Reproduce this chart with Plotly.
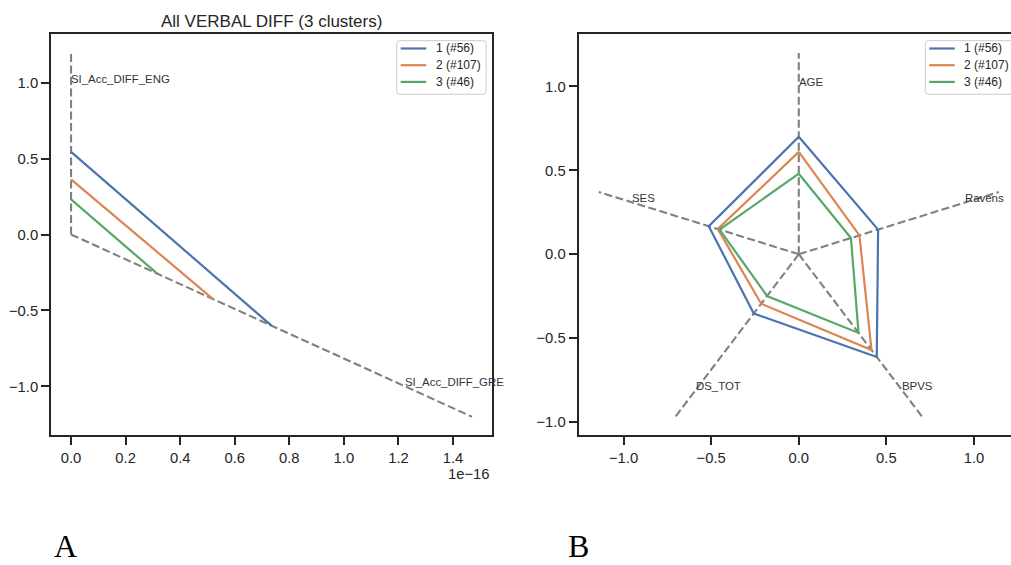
import numpy as np
import plotly.graph_objects as go

# ---------------- data ----------------
cluster_names = ["1 (#56)", "2 (#107)", "3 (#46)"]

# Panel A (two-axis radar)
axes_A = ["SI_Acc_DIFF_ENG", "SI_Acc_DIFF_GRE"]
A_cluster1 = [0.544, 0.600]
A_cluster2 = [0.363, 0.425]
A_cluster3 = [0.231, 0.258]

# Panel B (five-axis radar)
axes_B = ["AGE", "Ravens", "BPVS", "DS_TOT", "SES"]
B_cluster1 = [0.700, 0.476, 0.757, 0.437, 0.540]
B_cluster2 = [0.610, 0.364, 0.706, 0.365, 0.486]
B_cluster3 = [0.480, 0.313, 0.580, 0.308, 0.475]

axis_len = 1.2
label_r = 1.0

# ---------------- style ----------------
W, H = 1011, 565
colors = ["#4C72B0", "#DD8452", "#55A868"]
ink = "#262626"
font = "Liberation Sans, Arial, sans-serif"


def px_x(p):
    return p / W


def px_y(p):
    return 1 - p / H


def radar_xy(values, scale=1.0):
    n = len(values)
    th = 2 * np.pi * np.arange(n) / n
    v = np.asarray(values, dtype=float)
    return v * np.sin(th) * scale, v * np.cos(th)


fig = go.Figure()

panels = [
    dict(axes=axes_A, data=[A_cluster1, A_cluster2, A_cluster3], xa="x", ya="y",
         scale=1e16, legend_left=396.7),
    dict(axes=axes_B, data=[B_cluster1, B_cluster2, B_cluster3], xa="x2", ya="y2",
         scale=1.0, legend_left=925.3),
]

for p in panels:
    n = len(p["axes"])
    # dashed spokes
    ends_x, ends_y = radar_xy([axis_len] * n, p["scale"])
    for ex, ey in zip(ends_x, ends_y):
        fig.add_trace(go.Scatter(
            x=[0, ex], y=[0, ey], mode="lines", xaxis=p["xa"], yaxis=p["ya"],
            line=dict(color="#808080", width=2.1, dash="8px,3.5px"),
            showlegend=False, hoverinfo="skip"))
    # cluster polygons
    for vals, name, col in zip(p["data"], cluster_names, colors):
        xs, ys = radar_xy(vals, p["scale"])
        xs = np.append(xs, xs[0])
        ys = np.append(ys, ys[0])
        fig.add_trace(go.Scatter(
            x=xs, y=ys, mode="lines", name=name, xaxis=p["xa"], yaxis=p["ya"],
            line=dict(color=col, width=2.2), showlegend=False))
    # axis labels
    lx, ly = radar_xy([label_r] * n, p["scale"])
    for name, x, y in zip(p["axes"], lx, ly):
        fig.add_annotation(
            x=x, y=y, xref=p["xa"], yref=p["ya"], text=name, showarrow=False,
            xanchor="left", yanchor="middle", yshift=4, xshift=-2,
            font=dict(family=font, size=11.4, color="#333333"))

    # legend box (matplotlib-style)
    L = p["legend_left"]
    R = L + 89.5
    T, B = 40.7, 94.3
    r = 3
    x0, x1 = px_x(L), px_x(R)
    y0, y1 = px_y(B), px_y(T)
    rx, ry = r / W, r / H
    path = (f"M {x0+rx},{y1} L {x1-rx},{y1} Q {x1},{y1} {x1},{y1-ry} "
            f"L {x1},{y0+ry} Q {x1},{y0} {x1-rx},{y0} L {x0+rx},{y0} "
            f"Q {x0},{y0} {x0},{y0+ry} L {x0},{y1-ry} Q {x0},{y1} {x0+rx},{y1} Z")
    fig.add_shape(type="path", path=path, xref="paper", yref="paper",
                  line=dict(color="#cccccc", width=1),
                  fillcolor="rgba(255,255,255,0.8)", layer="above")
    for i, (name, col) in enumerate(zip(cluster_names, colors)):
        ry_px = 48.5 + i * 16.7
        fig.add_shape(type="line", xref="paper", yref="paper",
                      x0=px_x(L + 4), x1=px_x(L + 29.5),
                      y0=px_y(ry_px), y1=px_y(ry_px),
                      line=dict(color=col, width=2.2), layer="above")
        fig.add_annotation(
            x=px_x(L + 37), y=px_y(ry_px), xref="paper", yref="paper",
            text=name, showarrow=False, xanchor="left", yanchor="middle",
            font=dict(family=font, size=12, color=ink))

axis_common = dict(
    showline=True, linecolor=ink, linewidth=1.8, ticks="outside", ticklen=8,
    tickwidth=1.6, tickcolor=ink, showgrid=False, zeroline=False,
    tickfont=dict(family=font, size=14.8, color=ink), tickformat=".1f",
)

fig.update_layout(
    xaxis=dict(domain=[px_x(51), px_x(492)], range=[-0.0735, 1.543],
               tickvals=[0, 0.2, 0.4, 0.6, 0.8, 1.0, 1.2, 1.4], mirror=True,
               anchor="y", **axis_common),
    yaxis=dict(domain=[px_y(435), px_y(34)], range=[-1.32, 1.32],
               tickvals=[-1.0, -0.5, 0.0, 0.5, 1.0], mirror=True,
               anchor="x", **axis_common),
    xaxis2=dict(domain=[px_x(578.5), 1.0], range=[-1.257, 1.211],
                tickvals=[-1.0, -0.5, 0.0, 0.5, 1.0], mirror=True,
                anchor="y2", **axis_common),
    yaxis2=dict(domain=[px_y(435), px_y(34)], range=[-1.078, 1.313],
                tickvals=[-1.0, -0.5, 0.0, 0.5, 1.0], mirror=False,
                anchor="x2", **axis_common),
)

# title of panel A
fig.add_annotation(
    x=px_x(271.5), y=px_y(21.5), xref="paper", yref="paper",
    text="All VERBAL DIFF (3 clusters)", showarrow=False,
    xanchor="center", yanchor="middle",
    font=dict(family=font, size=17, color=ink))

# offset text for x axis of panel A
fig.add_annotation(
    x=px_x(492), y=px_y(474), xref="paper", yref="paper", text="1e\u221216",
    showarrow=False, xanchor="right", yanchor="middle",
    font=dict(family=font, size=14.8, color=ink))

# panel letters
for letter, xp in [("A", 53), ("B", 567)]:
    fig.add_annotation(
        x=px_x(xp), y=0, xref="paper", yref="paper", text=letter,
        showarrow=False, xanchor="left", yanchor="bottom", borderpad=0,
        font=dict(family="Liberation Serif, Times New Roman, serif", size=32,
                  color="#000000"))

fig.update_layout(
    width=W, height=H,
    margin=dict(l=0, r=0, t=0, b=0, autoexpand=False),
    paper_bgcolor="white", plot_bgcolor="white", showlegend=False,
)

fig.write_html("out.html", config={"displayModeBar": False},
               post_script="document.body.style.margin='0px';")
